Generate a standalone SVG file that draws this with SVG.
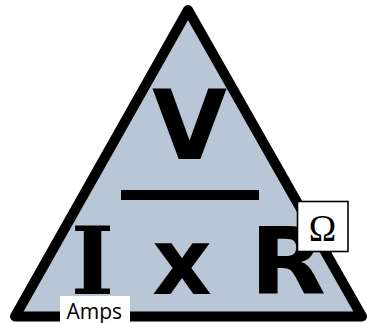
<svg xmlns="http://www.w3.org/2000/svg" width="367" height="323" viewBox="0 0 367 323">
  <style>
    .big { font-family: "DejaVu Sans", "Liberation Sans", sans-serif; font-weight: bold; fill: #000; text-anchor: middle; }
    .slab { font-family: "DejaVu Serif", serif; font-weight: bold; fill: #000; text-anchor: middle; }
    .tag { fill: #fff; }
  </style>
  <rect width="367" height="323" fill="#fff"/>
  <!-- Ohm's law triangle -->
  <g id="triangle">
    <polygon points="188,10 15,316.5 362,316.5" fill="#b9c6d5" stroke="#000" stroke-width="10" stroke-linejoin="round"/>
  </g>
  <g id="voltage">
    <text class="big" x="189.5" y="159" font-size="97">V</text>
  </g>
  <g id="divider">
    <rect x="121" y="190" width="138" height="10" fill="#000"/>
  </g>
  <g id="current">
    <text class="slab" x="92.5" y="294" font-size="93">I</text>
  </g>
  <g id="times">
    <text class="big" x="182" y="294" font-size="93">x</text>
  </g>
  <g id="resistance">
    <text class="big" x="288" y="294" font-size="93" transform="translate(288 0) scale(1.06 1) translate(-288 0)">R</text>
  </g>
  <!-- unit labels -->
  <g id="ohm-label">
    <rect class="tag" x="297.5" y="201.5" width="50.5" height="50" stroke="#000" stroke-width="1.6"/>
    <text x="322.5" y="240.5" font-family="Liberation Serif, serif" font-size="37" text-anchor="middle">Ω</text>
  </g>
  <g id="amps-label">
    <rect class="tag" x="60" y="296" width="70" height="27"/>
    <text x="66.5" y="319" font-family="Open Sans, sans-serif" font-size="21">Amps</text>
  </g>
</svg>
